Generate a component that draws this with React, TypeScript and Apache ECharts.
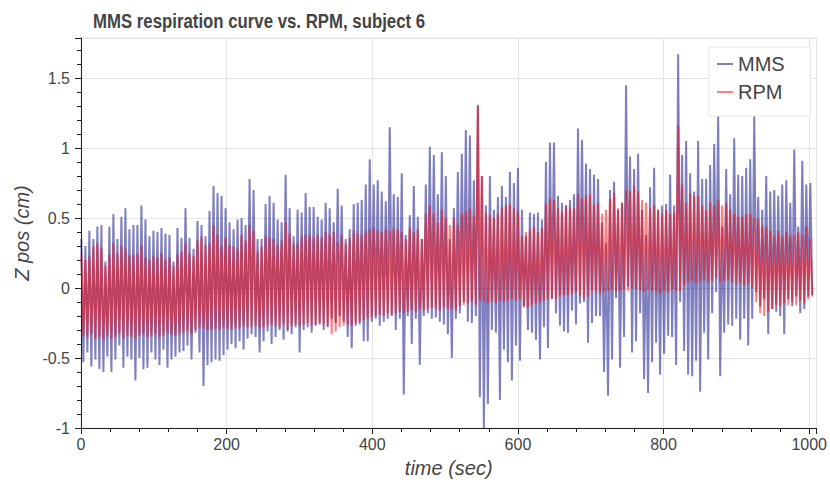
import React, { useEffect, useRef } from "react";
import * as echarts from "echarts";

// Sampling of the respiration trace: one peak and one trough per breathing cycle.
const CYCLE_SEC = 5.5;
const FIRST_PEAK_SEC = 0.5;

const seriesNames = ["MMS", "RPM"];
const xTicks = [0, 200, 400, 600, 800, 1000];
const yTicks = [-1, -0.5, 0, 0.5, 1, 1.5];

// MMS (blue) cycle peaks / troughs, cm
const mmsPeak = [
  0.35, 0.30, 0.41, 0.35, 0.44, 0.45, 0.19, 0.44, 0.53, 0.35, 0.51, 0.57, 0.42, 0.45, 0.45, 0.59,
  0.49, 0.37, 0.41, 0.40, 0.43, 0.39, 0.38, 0.19, 0.43, 0.36, 0.57, 0.36, 0.28, 0.48, 0.45, 0.37,
  0.55, 0.73, 0.68, 0.66, 0.57, 0.47, 0.42, 0.49, 0.50, 0.45, 0.78, 0.70, 0.35, 0.35, 0.60,
  0.66, 0.61, 0.49, 0.47, 0.81, 0.57, 0.37, 0.56, 0.54, 0.68, 0.58, 0.58, 0.51, 0.49, 0.61,
  0.57, 0.47, 0.71, 0.59, 0.35, 0.42, 0.60, 0.61, 0.63, 0.74, 0.92, 0.74, 0.77, 0.69, 0.62,
  1.15, 0.67, 0.65, 0.82, 0.38, 0.52, 0.73, 0.51, 0.35, 0.74, 1.01, 0.95, 0.67, 0.97, 0.80,
  0.35, 0.57, 0.83, 0.96, 1.13, 1.09, 0.77, 1.31, 0.80, 0.59, 0.80, 0.56, 0.65, 0.73, 0.65,
  0.83, 0.75, 0.86, 0.56, 0.37, 0.54, 0.53, 0.54, 0.49, 0.90, 1.04, 1.04, 0.66, 0.61,
  0.59, 0.63, 0.67, 1.14, 1.06, 0.89, 0.85, 0.81, 0.78, 0.47, 0.32, 0.70, 0.76, 0.56, 0.61,
  1.45, 0.94, 0.85, 0.96, 0.56, 0.38, 0.72, 0.86, 0.56, 0.59, 0.60, 0.81, 0.59, 1.67, 0.95,
  1.05, 0.82, 0.69, 1.05, 0.78, 0.78, 0.88, 1.03, 1.23, 0.44, 0.85, 0.67, 1.07, 0.81, 0.80, 0.86,
  0.92, 1.23, 0.65, 0.56, 0.80, 0.69, 0.70, 0.66, 0.74, 0.77, 0.61, 0.99, 0.44, 0.91, 0.74, 0.75,
];
const mmsTrough = [
  -0.53, -0.46, -0.56, -0.51, -0.58, -0.60, -0.49, -0.60, -0.51, -0.41, -0.57, -0.49, -0.51, -0.66, -0.50, -0.58,
  -0.57, -0.46, -0.51, -0.55, -0.44, -0.57, -0.51, -0.49, -0.46, -0.45, -0.41, -0.51, -0.32, -0.46, -0.70, -0.55,
  -0.53, -0.51, -0.52, -0.48, -0.44, -0.40, -0.43, -0.38, -0.44, -0.36, -0.33, -0.35, -0.46, -0.38, -0.31,
  -0.40, -0.35, -0.30, -0.37, -0.31, -0.33, -0.28, -0.46, -0.30, -0.28, -0.32, -0.27, -0.26, -0.30, -0.28,
  -0.22, -0.25, -0.20, -0.24, -0.35, -0.43, -0.27, -0.26, -0.38, -0.38, -0.24, -0.22, -0.27, -0.24, -0.22,
  -0.20, -0.30, -0.22, -0.76, -0.20, -0.40, -0.22, -0.55, -0.20, -0.18, -0.22, -0.21, -0.24, -0.26, -0.33,
  -0.50, -0.22, -0.18, -0.10, -0.24, -0.25, -0.20, -0.78, -1.00, -0.83, -0.30, -0.32, -0.80, -0.44, -0.53,
  -0.66, -0.41, -0.52, -0.13, -0.30, -0.32, -0.37, -0.51, -0.28, -0.43, -0.08, -0.18, -0.27, -0.31,
  -0.32, -0.16, -0.26, -0.11, -0.10, -0.39, -0.25, -0.20, -0.20, -0.60, -0.77, -0.51, -0.07, -0.57, -0.35,
  0.01, -0.46, -0.38, -0.18, -0.65, -0.75, -0.53, -0.39, -0.62, -0.47, -0.34, -0.35, -0.55, -0.10, -0.45,
  -0.62, -0.63, -0.52, -0.74, -0.32, -0.51, -0.18, -0.03, -0.63, -0.32, -0.26, -0.27, -0.22, -0.37, -0.22, -0.41,
  -0.22, -0.03, -0.13, -0.08, -0.33, -0.15, -0.17, -0.20, -0.33, -0.08, -0.13, -0.06, -0.18, -0.15, -0.06, -0.05,
];

// RPM (red) cycle peaks / troughs, cm
const rpmPeak = [
  0.24, 0.20, 0.23, 0.30, 0.32, 0.29, 0.16, 0.24, 0.32, 0.25, 0.30, 0.28, 0.23, 0.24, 0.25, 0.30,
  0.22, 0.20, 0.23, 0.22, 0.25, 0.20, 0.22, 0.16, 0.24, 0.26, 0.32, 0.25, 0.23, 0.34, 0.37, 0.31,
  0.32, 0.45, 0.38, 0.30, 0.36, 0.31, 0.30, 0.28, 0.38, 0.34, 0.45, 0.41, 0.26, 0.30, 0.37,
  0.36, 0.35, 0.31, 0.34, 0.47, 0.39, 0.32, 0.32, 0.37, 0.38, 0.38, 0.36, 0.38, 0.36, 0.40,
  0.38, 0.40, 0.33, 0.38, 0.32, 0.36, 0.41, 0.39, 0.38, 0.41, 0.42, 0.43, 0.41, 0.40, 0.42,
  0.41, 0.43, 0.42, 0.40, 0.35, 0.43, 0.40, 0.42, 0.35, 0.53, 0.59, 0.53, 0.47, 0.56, 0.50,
  0.45, 0.50, 0.45, 0.53, 0.55, 0.57, 0.52, 1.30, 0.80, 0.54, 0.52, 0.50, 0.53, 0.58, 0.59,
  0.60, 0.57, 0.55, 0.37, 0.40, 0.42, 0.44, 0.40, 0.43, 0.61, 0.64, 0.63, 0.57, 0.55,
  0.59, 0.58, 0.57, 0.67, 0.64, 0.66, 0.67, 0.60, 0.61, 0.53, 0.56, 0.64, 0.68, 0.57, 0.61,
  0.70, 0.69, 0.73, 0.69, 0.63, 0.61, 0.57, 0.59, 0.56, 0.53, 0.56, 0.53, 0.54, 1.16, 0.74,
  0.61, 0.68, 0.66, 0.66, 0.59, 0.56, 0.61, 0.59, 0.63, 0.59, 0.61, 0.56, 0.53, 0.51, 0.51, 0.53,
  0.53, 0.50, 0.49, 0.44, 0.44, 0.41, 0.37, 0.41, 0.37, 0.40, 0.37, 0.38, 0.40, 0.38, 0.44, 0.35,
];
const rpmTrough = [
  -0.34, -0.35, -0.33, -0.36, -0.35, -0.37, -0.34, -0.36, -0.35, -0.33, -0.36, -0.34, -0.35, -0.36, -0.34, -0.33,
  -0.35, -0.34, -0.33, -0.35, -0.34, -0.32, -0.33, -0.34, -0.33, -0.32, -0.31, -0.33, -0.30, -0.28, -0.29, -0.30,
  -0.30, -0.29, -0.30, -0.28, -0.29, -0.30, -0.28, -0.29, -0.27, -0.28, -0.28, -0.27, -0.29, -0.28, -0.27,
  -0.26, -0.27, -0.28, -0.26, -0.30, -0.27, -0.26, -0.27, -0.26, -0.25, -0.27, -0.26, -0.25, -0.26, -0.27,
  -0.33, -0.31, -0.28, -0.27, -0.26, -0.27, -0.25, -0.24, -0.23, -0.22, -0.21, -0.20, -0.19, -0.20, -0.18,
  -0.19, -0.18, -0.17, -0.18, -0.17, -0.16, -0.17, -0.15, -0.16, -0.15, -0.14, -0.15, -0.16, -0.14, -0.15,
  -0.15, -0.16, -0.13, -0.12, -0.11, -0.10, -0.12, -0.09, -0.10, -0.11, -0.10, -0.11, -0.09, -0.10, -0.09,
  -0.08, -0.09, -0.08, -0.14, -0.14, -0.12, -0.11, -0.10, -0.09, -0.08, -0.07, -0.08, -0.06, -0.05,
  -0.05, -0.04, -0.03, -0.06, -0.07, -0.06, -0.02, -0.03, -0.04, -0.03, -0.02, -0.01, -0.03, -0.02, -0.01,
  -0.02, 0.00, -0.01, -0.02, -0.03, -0.01, -0.02, -0.03, -0.04, -0.02, -0.03, -0.01, -0.02, -0.02, 0.02,
  0.04, 0.05, 0.03, 0.05, 0.06, 0.04, 0.05, 0.07, 0.04, 0.05, 0.06, 0.04, 0.03, 0.04, 0.02, 0.03,
  0.00, -0.10, -0.18, -0.20, -0.17, -0.15, -0.12, -0.13, -0.11, -0.12, -0.10, -0.12, -0.09, -0.11, -0.08, -0.06,
];

const FONT = "'Liberation Sans', Arial, Helvetica, sans-serif";
const TITLE = "MMS respiration curve vs. RPM, subject 6";

function buildTrace(peaks: number[], troughs: number[]) {
  const out: [number, number][] = [];
  for (let i = 0; i < peaks.length; i++) {
    const t = FIRST_PEAK_SEC + i * CYCLE_SEC;
    out.push([t, peaks[i]]);
    out.push([t + CYCLE_SEC / 2, troughs[i]]);
  }
  return out;
}

export default function App() {
  const ref = useRef<HTMLDivElement>(null);
  useEffect(() => {
    document.body.style.margin = "0";
    if (!ref.current) return;
    const chart = echarts.init(ref.current, undefined, { renderer: "svg" });
    const axisColor = "#222";
    const labelStyle = { color: "#444", fontSize: 16, fontFamily: FONT };
    chart.setOption({
      animation: false,
      backgroundColor: "#ffffff",
      graphic: [
        {
          type: "text",
          x: 93,
          y: 11,
          scaleX: 0.84,
          style: {
            text: TITLE,
            font: `bold 20px ${FONT}`,
            fill: "#444",
            textVerticalAlign: "top",
          },
        },
      ],
      legend: {
        data: seriesNames,
        orient: "vertical",
        left: 709,
        top: 47,
        icon: "rect",
        itemWidth: 16,
        itemHeight: 2,
        itemGap: 8,
        padding: [7, 26, 14, 8],
        backgroundColor: "#ffffff",
        borderColor: "#e5e5e5",
        borderWidth: 1,
        textStyle: { fontSize: 20, color: "#444", fontFamily: FONT, lineHeight: 20 },
      },
      grid: {
        left: 81,
        right: 11,
        top: 38,
        bottom: 54,
        show: true,
        borderColor: "#e5e5e5",
        borderWidth: 1,
        backgroundColor: "transparent",
      },
      xAxis: {
        type: "value",
        min: xTicks[0],
        max: 1010,
        interval: 200,
        name: "time (sec)",
        nameLocation: "middle",
        nameGap: 30,
        nameTextStyle: { fontSize: 20, fontStyle: "italic", color: "#444", fontFamily: FONT },
        axisLine: { show: true, onZero: false, lineStyle: { color: axisColor, width: 1 } },
        axisTick: { show: true, length: 6, lineStyle: { color: axisColor } },
        minorTick: { show: true, splitNumber: 5, length: 4, lineStyle: { color: axisColor } },
        axisLabel: { ...labelStyle, margin: 8, showMaxLabel: false, formatter: (v: number) => String(v) },
        splitLine: { show: true, lineStyle: { color: "#e5e5e5", width: 1 } },
      },
      yAxis: {
        type: "value",
        min: yTicks[0],
        max: 1.787,
        interval: 0.5,
        name: "Z pos (cm)",
        nameLocation: "middle",
        nameGap: 45,
        nameTextStyle: { fontSize: 20, fontStyle: "italic", color: "#444", fontFamily: FONT },
        axisLine: { show: true, onZero: false, lineStyle: { color: axisColor, width: 1 } },
        axisTick: { show: true, length: 6, lineStyle: { color: axisColor } },
        minorTick: { show: true, splitNumber: 5, length: 4, lineStyle: { color: axisColor } },
        axisLabel: { ...labelStyle, margin: 11, showMaxLabel: false, formatter: (v: number) => String(v) },
        splitLine: { show: true, lineStyle: { color: "#e5e5e5", width: 1 } },
      },
      series: [
        {
          name: seriesNames[0],
          type: "line",
          data: buildTrace(mmsPeak, mmsTrough),
          symbol: "none",
          showSymbol: false,
          color: "rgba(0,0,128,0.5)",
          lineStyle: { color: "rgba(0,0,128,0.5)", width: 2 },
          clip: true,
          z: 2,
        },
        {
          name: seriesNames[1],
          type: "line",
          data: buildTrace(rpmPeak, rpmTrough),
          symbol: "none",
          showSymbol: false,
          color: "rgba(255,0,0,0.5)",
          lineStyle: { color: "rgba(255,0,0,0.5)", width: 2 },
          clip: true,
          z: 3,
        },
      ],
    });
    return () => chart.dispose();
  }, []);
  return <div ref={ref} style={{ width: 830, height: 483 }} />;
}
